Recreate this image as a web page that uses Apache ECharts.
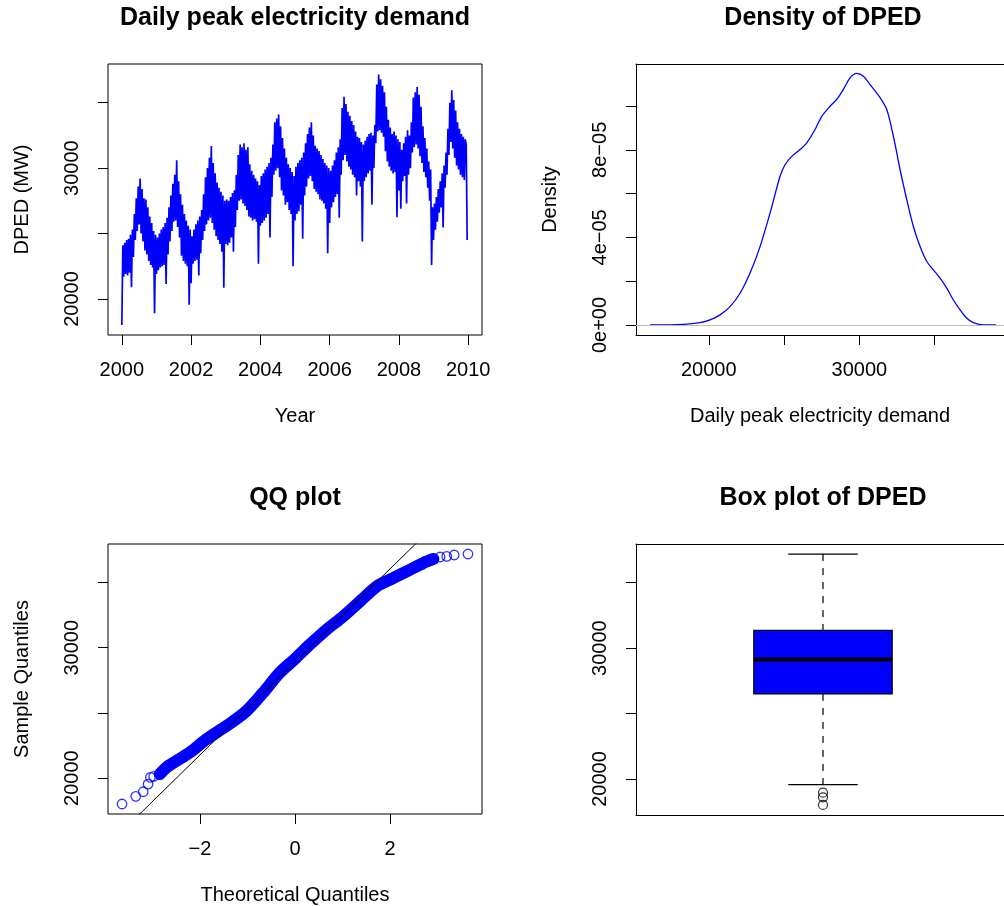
<!DOCTYPE html>
<html><head><meta charset="utf-8">
<script src="https://cdn.jsdelivr.net/npm/echarts@6/dist/echarts.min.js"></script>
<style>html,body{margin:0;padding:0;background:#fff}#c{width:1004px;height:906px}</style>
</head><body><div id="c"></div>
<script>
// ---------- DATA ----------
const years = [2000, 2001, 2002, 2003, 2004, 2005, 2006, 2007, 2008, 2009];
const y2000 = [18011,24100,21700,24300,21900,24500,21800,24600,22000,24900,20900,25300,23200,26500,24500,27700,25200,28600,25700,29200,25000,28400,24400,27700,23700,27600,23400,27000,22900,26300,22600,25800,22400,25200,18900,24900];
const y2001 = [21900,24700,22200,25000,22400,25300,22500,25500,22600,25800,21150,26200,23400,27000,24400,27900,25200,28800,25900,29500,26000,30600,25500,29000,24700,28000,23300,27200,22900,26500,22700,26000,22500,25600,19550,25300];
const y2002 = [21200,24800,22700,25300,22900,25700,23000,26000,21800,26300,23500,26800,24500,28000,25200,29300,25700,30000,26000,30800,26200,31700,25800,30400,25300,29600,24800,28900,24500,28500,24200,28200,23600,27900,20850,27500];
const y2003 = [24200,27600,24100,27500,24300,27800,24700,28100,23600,28300,25500,29500,26800,31000,27500,31800,27600,31600,27300,31900,27100,31400,26800,31600,26300,30300,26200,29800,26000,29500,26100,29200,25900,29000,22700,28700];
const y2004 = [25600,29400,25800,29600,26000,29900,26200,30100,26500,30400,24700,30800,27800,31800,29500,33500,29800,33800,30000,34100,29300,33200,28300,32300,27900,31500,27200,30800,27400,30300,26800,30000,26500,29700,22500,29400];
const y2005 = [26000,30100,26500,30400,26700,30600,27200,30800,24600,31200,27900,31900,28600,32600,29200,33100,29400,33500,29000,32500,28400,31700,28200,31500,28000,31300,27600,31000,27500,30700,27300,30400,26900,30200,23500,30000];
const y2006 = [25800,29800,27000,30200,27400,30600,27800,31200,28000,31600,26200,32200,29500,34600,30600,35450,31000,34900,30500,34300,30100,34000,29900,33600,29500,33300,29300,32800,27900,32400,29000,32300,28600,32000,24400,31800];
const y2007 = [29000,32100,29300,32400,29600,32600,29800,32700,27200,32500,30000,33300,31900,36400,32800,37164,32900,36800,32700,36300,32400,35800,31300,34700,30500,33700,30100,33100,29800,32600,29600,32800,29700,32500,26250,32200];
const y2008 = [28300,32000,26900,31400,29000,31900,29400,32400,27300,32900,29500,32500,30000,33500,31200,35400,31600,35800,31800,36200,31500,35600,30900,34700,30400,33200,29700,32300,29300,31500,28500,30500,27500,29900,22600,27000];
const y2009 = [24500,27300,25300,27800,25900,28400,26600,29000,27000,29600,25470,30200,28500,31200,29500,33000,31000,35000,32000,35950,31500,35200,30800,34400,30200,33500,29900,33000,29500,32600,29300,32400,29100,32200,31800,24500];
const yearlyValues = [y2000, y2001, y2002, y2003, y2004, y2005, y2006, y2007, y2008, y2009];

const densityX = [16102,18313,19422,20086,20750,21414,22078,22742,23406,24070,24734,25066,25511,26062,26507,27059,27503,28054,28499,28938,29382,29827,30266,30710,31375,31819,32258,32703,33147,33586,34031,34475,34914,35359,35803,36242,36687,37131,37570,38235,39077];
const densityY = [0,3e-7,1.05e-6,2.3e-6,4.6e-6,8.4e-6,1.45e-5,2.37e-5,3.58e-5,5.11e-5,6.79e-5,7.32e-5,7.70e-5,8.01e-5,8.32e-5,8.93e-5,9.53e-5,9.99e-5,1.030e-4,1.076e-4,1.129e-4,1.149e-4,1.136e-4,1.098e-4,1.038e-4,9.84e-5,8.62e-5,7.09e-5,5.72e-5,4.50e-5,3.58e-5,2.90e-5,2.52e-5,2.14e-5,1.68e-5,1.14e-5,6.9e-6,3.1e-6,1.1e-6,0,0];

const qqTheoretical = [-3.636,-3.347,-3.19,-3.088,-3.04,-2.97,-2.84,-2.70,-2.49,-2.21,-1.86,-1.44,-1.02,-0.67,-0.32,0,0.316,0.667,1.017,1.368,1.72,2.0,2.35,2.70,2.91,3.05,3.19,3.347,3.636];
const qqSample = [18011,18598,18952,19541,20054,20130,20306,20819,21324,21966,22984,24002,25150,26557,28087,29150,30253,31400,32418,33565,34713,35226,35861,36504,36810,36963,37009,37116,37193];
const qqQuartiles = [26500, 31320];

const boxStats = [19560, 26500, 29130, 31350, 37190];
const boxOutliers = [18952, 18598, 18011];

const demandTicks = [20000, 25000, 30000, 35000];
const demandLabels = [20000, 30000];
const yearTicks = [2000, 2002, 2004, 2006, 2008, 2010];
const densityXTicks = [20000, 25000, 30000, 35000];
const densityXLabels = [20000, 30000];
const densityYTicks = [0, 2e-5, 4e-5, 6e-5, 8e-5, 1e-4];
const densityYLabels = [0, 4e-5, 8e-5];
const densityYLabelText = ['0e+00', '4e\u221205', '8e\u221205'];
const qqTicks = [-2, 0, 2];

// ---------- BUILD ----------
const series1 = [];
yearlyValues.forEach((arr, k) => {
  arr.forEach((v, i) => series1.push([years[k] + i / arr.length, v]));
});
const densityData = densityX.map((x, i) => [x, densityY[i]]);
const qqData = qqTheoretical.map((t, i) => [t, qqSample[i]]);
const qqBand = qqData.filter(d => d[0] >= -2.9 && d[0] <= 2.95);
const z75 = 0.6745;
const qqSlope = (qqQuartiles[1] - qqQuartiles[0]) / (2 * z75);
const qqInt = (qqQuartiles[0] + qqQuartiles[1]) / 2;
const qqLine = [[-4, qqInt - 4 * qqSlope], [4, qqInt + 4 * qqSlope]];

const FONT = 'Liberation Sans, Arial, Helvetica, sans-serif';
const BLUE = '#0000ff';
const LAB = 20;
const FRAME = { show: true, lineStyle: { color: '#000', width: 1 } };

function xAxisCfg(idx, min, max, ticks, labels, name, fmt, frame) {
  return {
    type: 'value', gridIndex: idx, min, max, position: 'bottom',
    axisLine: frame ? Object.assign({ onZero: false }, FRAME) : { show: false, onZero: false }, splitLine: { show: false },
    axisTick: { show: ticks.length > 0, length: 10, customValues: ticks, lineStyle: { color: '#000', width: 1 } },
    axisLabel: { show: labels.length > 0, customValues: labels, color: '#000', fontSize: LAB, fontFamily: FONT,
      margin: 35, verticalAlign: 'middle', align: 'center', formatter: fmt || (v => String(v)) },
    name, nameLocation: 'middle', nameGap: 81,
    nameTextStyle: { color: '#000', fontSize: LAB, fontFamily: FONT, verticalAlign: 'middle', align: 'center' }
  };
}
function topFrameAxis(idx, min, max) {
  return { type: 'value', gridIndex: idx, min, max, position: 'top',
    axisLine: Object.assign({ onZero: false }, FRAME), axisTick: { show: false }, axisLabel: { show: false }, splitLine: { show: false } };
}
function yAxisCfg(idx, min, max, ticks, labels, name, fmt, frame) {
  return {
    type: 'value', gridIndex: idx, min, max, position: 'left',
    axisLine: frame ? Object.assign({ onZero: false }, FRAME) : { show: false, onZero: false }, splitLine: { show: false },
    axisTick: { show: ticks.length > 0, length: 10, customValues: ticks, lineStyle: { color: '#000', width: 1 } },
    axisLabel: { show: labels.length > 0, customValues: labels, color: '#000', fontSize: LAB, fontFamily: FONT,
      margin: 36, rotate: 90, verticalAlign: 'middle', align: 'center', formatter: fmt || (v => String(v)) },
    name, nameLocation: 'middle', nameGap: 86, nameRotate: 90,
    nameTextStyle: { color: '#000', fontSize: LAB, fontFamily: FONT, verticalAlign: 'middle', align: 'center' }
  };
}
const gridBox = { show: true, borderColor: '#000', borderWidth: 1, backgroundColor: 'transparent', containLabel: false };
const gridOpen = { show: false, containLabel: false };
const titleStyle = { fontSize: 25, fontWeight: 'bold', fontFamily: FONT, color: '#000' };

const yMin = 17244, yMax = 37960;
const boxHalf = 0.185, capHalf = 0.093;
// right-hand panels are cut by the canvas edge (plot box would end at x=1010)
const visibleFrac = 368 / 374;
const densityXMin = 15170, densityXMaxFull = 40000;
const densityXMax = densityXMin + (densityXMaxFull - densityXMin) * visibleFrac;
const boxXMax = 0.5 + 1.0 * visibleFrac;

const option = {
  animation: false,
  backgroundColor: '#fff',
  textStyle: { fontFamily: FONT },
  title: [
    { text: 'Daily peak electricity demand', left: 295, top: 6, textAlign: 'center', padding: 0, textStyle: titleStyle },
    { text: 'Density of DPED', left: 823, top: 6, textAlign: 'center', padding: 0, textStyle: titleStyle },
    { text: 'QQ plot', left: 295, top: 486, textAlign: 'center', padding: 0, textStyle: titleStyle },
    { text: 'Box plot of DPED', left: 823, top: 486, textAlign: 'center', padding: 0, textStyle: titleStyle }
  ],
  grid: [
    Object.assign({ left: 108, top: 64, width: 374, height: 271 }, gridBox),
    Object.assign({ left: 636, top: 64, width: 368, height: 271 }, gridOpen),
    Object.assign({ left: 108, top: 544, width: 374, height: 271 }, gridBox),
    Object.assign({ left: 636, top: 544, width: 368, height: 271 }, gridOpen)
  ],
  xAxis: [
    xAxisCfg(0, 1999.6, 2010.4, yearTicks, yearTicks, 'Year'),
    xAxisCfg(1, densityXMin, densityXMax, densityXTicks, densityXLabels, 'Daily peak electricity demand', null, true),
    xAxisCfg(2, -3.931, 3.931, qqTicks, qqTicks, 'Theoretical Quantiles', v => v < 0 ? '\u2212' + Math.abs(v) : String(v)),
    xAxisCfg(3, 0.5, boxXMax, [], [], '', null, true),
    topFrameAxis(1, densityXMin, densityXMax),
    topFrameAxis(3, 0.5, boxXMax)
  ],
  yAxis: [
    yAxisCfg(0, yMin, yMax, demandTicks, demandLabels, 'DPED (MW)'),
    yAxisCfg(1, -4.58e-6, 1.192e-4, densityYTicks, densityYLabels, 'Density',
      v => { const i = densityYLabels.findIndex(d => Math.abs(d - v) < 1e-9); return i >= 0 ? densityYLabelText[i] : ''; }, true),
    yAxisCfg(2, yMin, yMax, demandTicks, demandLabels, 'Sample Quantiles'),
    yAxisCfg(3, yMin, yMax, demandTicks, demandLabels, '', null, true)
  ],
  series: [
    { type: 'line', xAxisIndex: 0, yAxisIndex: 0, data: series1, symbol: 'none', sampling: null,
      lineStyle: { color: BLUE, width: 1.7 }, clip: true },
    { type: 'line', xAxisIndex: 1, yAxisIndex: 1, data: densityData, symbol: 'none', smooth: 0.3,
      lineStyle: { color: BLUE, width: 1.3 }, z: 3,
      markLine: { silent: true, symbol: 'none', label: { show: false },
        lineStyle: { color: '#bebebe', width: 1, type: 'solid' }, data: [{ yAxis: 0 }] } },
    { type: 'line', xAxisIndex: 2, yAxisIndex: 2, data: qqBand, symbol: 'none', smooth: 0.3,
      lineStyle: { color: BLUE, width: 12, cap: 'round', join: 'round' } },
    { type: 'scatter', xAxisIndex: 2, yAxisIndex: 2, data: qqData, symbol: 'circle', symbolSize: 9.5,
      itemStyle: { color: 'rgba(0,0,0,0)', borderColor: BLUE, borderWidth: 1.3 } },
    { type: 'line', xAxisIndex: 2, yAxisIndex: 2, data: qqLine, symbol: 'none', clip: true,
      lineStyle: { color: '#000', width: 1 }, z: 5 },
    { type: 'custom', xAxisIndex: 3, yAxisIndex: 3, data: [[1].concat(boxStats)],
      renderItem: function (params, api) {
        const c = api.value(0), lo = api.value(1), q1 = api.value(2), med = api.value(3), q3 = api.value(4), hi = api.value(5);
        const pLo = api.coord([c, lo]), pQ1 = api.coord([c, q1]), pMed = api.coord([c, med]), pQ3 = api.coord([c, q3]), pHi = api.coord([c, hi]);
        const bl = api.coord([c - boxHalf, q3]), br = api.coord([c + boxHalf, q1]);
        const cl = api.coord([c - capHalf, hi])[0], cr = api.coord([c + capHalf, hi])[0];
        const dash = { stroke: '#000', lineWidth: 1.2, lineDash: [7, 7] };
        return { type: 'group', children: [
          { type: 'line', shape: { x1: pHi[0], y1: pHi[1], x2: pQ3[0], y2: pQ3[1] }, style: dash },
          { type: 'line', shape: { x1: pQ1[0], y1: pQ1[1], x2: pLo[0], y2: pLo[1] }, style: dash },
          { type: 'line', shape: { x1: cl, y1: pHi[1], x2: cr, y2: pHi[1] }, style: { stroke: '#000', lineWidth: 1.2 } },
          { type: 'line', shape: { x1: cl, y1: pLo[1], x2: cr, y2: pLo[1] }, style: { stroke: '#000', lineWidth: 1.2 } },
          { type: 'rect', shape: { x: bl[0], y: bl[1], width: br[0] - bl[0], height: br[1] - bl[1] },
            style: { fill: BLUE, stroke: '#000', lineWidth: 1.2 } },
          { type: 'line', shape: { x1: bl[0], y1: pMed[1], x2: br[0], y2: pMed[1] }, style: { stroke: '#000', lineWidth: 4 } }
        ] };
      } },
    { type: 'scatter', xAxisIndex: 3, yAxisIndex: 3, data: boxOutliers.map(v => [1, v]), symbol: 'circle', symbolSize: 9,
      itemStyle: { color: 'rgba(0,0,0,0)', borderColor: '#000', borderWidth: 1.2 } }
  ]
};
const chart = echarts.init(document.getElementById('c'), null, { renderer: 'canvas' });
chart.setOption(option);
</script>
</body></html>
